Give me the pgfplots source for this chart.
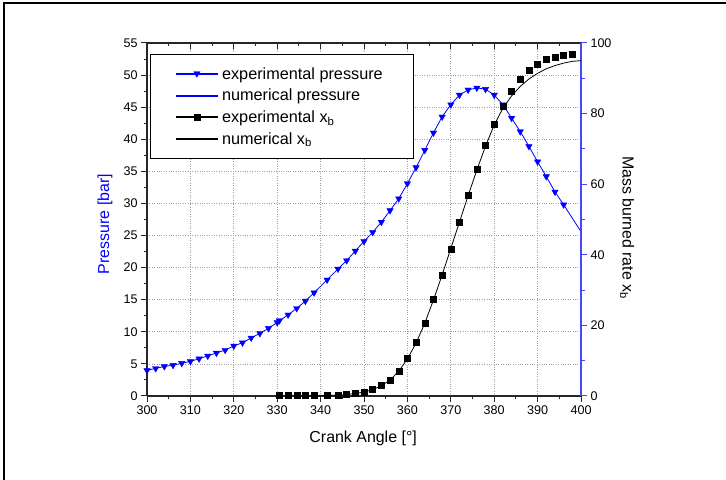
\documentclass[border=0pt]{standalone}
\usepackage{fontspec}
\setmainfont{Liberation Sans}
\usepackage{pgfplots}
\pgfplotsset{compat=1.18}
\definecolor{pblue}{RGB}{0,0,255}
\definecolor{raxis}{RGB}{70,70,255}

\begin{document}
\begin{tikzpicture}[x=1bp,y=1bp]
\path[use as bounding box] (0,0) rectangle (726,480);
\draw[line width=2bp] (4,0) -- (4,477) -- (726,477);

\pgfplotsset{
  common/.style={
    at={(147bp,84bp)}, anchor=south west, scale only axis,
    width=434bp, height=353bp, xmin=300, xmax=400,
    /pgf/number format/assume math mode=true,
    ticklabel style={font=\fontsize{12.6}{14}\selectfont},
    label style={font=\fontsize{16}{18}\selectfont},
    major tick length=6bp, minor tick length=3.5bp,
    xtick={300,310,...,400}, minor x tick num=1,
  }
}

% left axis: pressure
\begin{axis}[common,
  ymin=0, ymax=55,
  axis x line*=bottom, axis y line*=left,
  axis line style={line width=1.2bp, black!85},
  tick style={line width=1bp, black!85},
  tick align=outside,
  ytick={0,5,...,55}, minor y tick num=1,
  grid=major, grid style={dotted, gray!75, line width=0.8bp},
  xlabel={Crank Angle [°]},
  xlabel style={at={(rel axis cs:0.498,-0.119)}, anchor=center},
  ylabel={Pressure [bar]},
  ylabel style={at={(rel axis cs:-0.0968,0.487)}, anchor=center, text=pblue},
]
\addplot[pblue, line width=0.8bp, forget plot] coordinates {
(300,4.0) (302,4.3) (304,4.6) (306,4.8) (308,5.1) (310,5.4) (312,5.8) (314,6.25)
(316,6.7) (318,7.15) (320,7.8) (322,8.3) (324,9.05) (326,9.75) (328,10.55) (330,11.45)
(332.5,12.65) (334.5,13.65) (336.5,14.8) (338.5,16.1) (341.5,18.1) (344,19.8)
(346,21.1) (348,22.6) (350,24.1) (352,25.5) (354,27.1) (356,28.9) (358,30.75)
(360,33.1) (362,35.6) (364,38.3) (366,41.0) (368,43.5) (370,45.4) (372,46.9)
(374,47.7) (376,48.0) (378,47.8) (380,46.9) (382,45.4) (384,43.3) (386,41.2)
(388,38.9) (390,36.5) (392,34.2) (394,31.8) (396,29.8) (398,27.7) (400,25.6)
};
\addplot[only marks, mark=triangle*, mark size=3.7bp, pblue,
  mark options={rotate=180, fill=pblue, draw=pblue}, forget plot] coordinates {
(300,4.0) (302,4.3) (304,4.6) (306,4.8) (308,5.1) (310,5.4) (312,5.8) (314,6.25)
(316,6.7) (318,7.15) (320,7.8) (322,8.3) (324,9.05) (326,9.75) (328,10.55) (330,11.45)
(330.5,11.75) (332.5,12.65) (334.5,13.65) (336.5,14.8) (338.5,16.1) (341.5,18.1) (344,19.8)
(346,21.1) (348,22.6) (350,24.1) (352,25.5) (354,27.1) (356,28.9) (358,30.75)
(360,33.1) (362,35.6) (364,38.3) (366,41.0) (368,43.5) (370,45.4) (372,46.9)
(374,47.7) (376,48.0) (378,47.8) (380,46.9) (382,45.4) (384,43.3) (386,41.2)
(388,38.9) (390,36.5) (392,34.2) (394,31.8) (396,29.8)
};
\end{axis}

% top axis line with inward ticks
\begin{axis}[common,
  ymin=0, ymax=55,
  axis x line*=top, axis y line=none,
  axis line style={line width=1.2bp, black!85},
  tick style={line width=1bp, black!85},
  tick align=inside,
  xticklabels={},
]
\end{axis}

% right axis: mass burned rate
\begin{axis}[common,
  ymin=0, ymax=100,
  axis x line=none, axis y line*=right,
  axis line style={line width=1.2bp, raxis},
  ytick style={line width=1bp, raxis},
  tick align=outside,
  ytick={0,20,...,100}, minor y tick num=1,
  ylabel={Mass burned rate x\textsubscript{b}},
  ylabel style={at={(rel axis cs:1.106,0.477)}, anchor=center, rotate=180},
  legend cell align=left,
  legend style={at={(rel axis cs:0.0069,0.969)}, anchor=north west,
    fill=white,
    inner xsep=26bp, inner ysep=8.6bp,
    font=\fontsize{16.3}{17}\selectfont,
    nodes={text height=15.3bp, text depth=4.4bp, inner ysep=1bp, inner xsep=4.5bp},
  },
]
\addlegendimage{legend image code/.code={
  \fill[pblue] (0bp,-0.5bp) rectangle (41bp,0.5bp);
  \fill[pblue] (20.5bp,-3.7bp) -- (23.7bp,1.85bp) -- (17.3bp,1.85bp) -- cycle;}}
\addlegendentry{experimental pressure}
\addlegendimage{legend image code/.code={
  \fill[pblue] (0bp,-0.5bp) rectangle (41bp,0.5bp);}}
\addlegendentry{numerical pressure}
\addlegendimage{legend image code/.code={
  \fill[black] (0bp,-0.4bp) rectangle (41bp,0.4bp);
  \fill[black] (17.5bp,-3bp) rectangle (23.5bp,3bp);}}
\addlegendentry{experimental x\textsubscript{b}}
\addlegendimage{legend image code/.code={
  \fill[black] (0bp,-0.4bp) rectangle (41bp,0.4bp);}}
\addlegendentry{numerical x\textsubscript{b}}

\addplot[black, line width=0.8bp, forget plot] coordinates {
(330,0) (340,0.1) (345,0.3) (348,0.7) (350,1.1) (352,1.8) (354,2.9) (356,4.5)
(358,7.0) (360,10.5) (362,15.0) (364,20.6) (366,27.2) (368,34.3) (370,41.8)
(372,49.3) (374,56.8) (376,64.0) (378,70.8) (380,76.8) (382,81.5) (384,85.0)
(386,87.7) (388,89.8) (390,91.4) (392,92.7) (394,93.6) (396,94.3) (398,94.8) (400,95.0)
};
\addplot[only marks, mark=square*, mark size=3bp, black, forget plot] coordinates {
(330.5,0.1) (332.5,0.15) (334.5,0.2) (336.5,0.2) (338.5,0.2) (341.5,0.25) (344,0.35)
(346,0.5) (348,0.9) (350,1.2) (352,1.9) (354,3.0) (356,4.6) (358,7.1) (360,10.6)
(362,15.1) (364,20.7) (366,27.3) (368,34.2) (370,41.7) (372,49.2) (374,56.9)
(376,64.2) (378,71.1) (380,77.1) (382,82.1) (384,86.4) (386,89.7) (388,92.2)
(390,93.9) (392,95.4) (394,96.1) (396,96.5) (398,96.7)
};
\end{axis}
\end{tikzpicture}
\end{document}
